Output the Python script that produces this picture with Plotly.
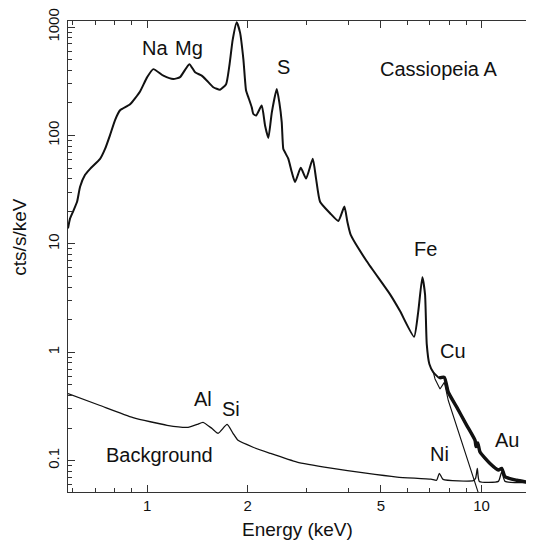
import math
import plotly.graph_objects as go

# ---- data ----
spec_E = [0.5803, 0.5884, 0.6008, 0.6177, 0.6306, 0.6527, 0.6757, 0.7237, 0.7489, 0.7750,
          0.8023, 0.8304, 0.8896, 0.9530, 1.000, 1.044, 1.119, 1.198, 1.255, 1.338,
          1.392, 1.457, 1.508, 1.578, 1.653, 1.723, 1.762, 1.804, 1.854, 1.897,
          1.941, 1.977, 2.008, 2.056, 2.079, 2.118, 2.202, 2.253, 2.305, 2.360,
          2.442, 2.486, 2.527, 2.555, 2.585, 2.645, 2.708, 2.770, 2.881, 2.988,
          3.129, 3.201, 3.290, 3.525, 3.732, 3.890, 3.971, 4.064, 4.538, 5.328,
          5.706, 6.285, 6.471, 6.653, 6.778, 6.858, 6.982, 7.177, 7.478, 7.740,
          7.955, 8.431, 9.030, 9.563, 9.630, 9.742, 9.897, 10.60, 11.23, 11.49,
          11.76, 12.74, 14.29, 14.6]
spec_cts = [13.9, 17.1, 19.9, 24.5, 33.7, 43.4, 49.3, 60.9, 75.2, 101,
            139, 171, 194, 255, 344, 410, 357, 332, 346, 456,
            383, 357, 322, 279, 265, 298, 440, 772, 1110, 890,
            505, 260, 226, 182, 158, 153, 189, 124, 95, 163,
            269, 202, 133, 75, 70, 61, 46, 37.2, 50.4, 40.1,
            61, 40, 24.5, 19.2, 16.3, 22.1, 16, 12.1, 6.91, 3.42,
            2.40, 1.39, 2.40, 4.93, 3.42, 1.19, 0.78, 0.654, 0.58, 0.588,
            0.428, 0.312, 0.212, 0.154, 0.135, 0.146, 0.12, 0.094, 0.082, 0.085,
            0.071, 0.066, 0.062, 0.061]

model_E = [7.177, 7.261, 7.514, 7.740, 7.955, 8.824, 9.782, 9.897]
model_cts = [0.654, 0.567, 0.459, 0.528, 0.359, 0.134, 0.0518, 0.0451]

bkg_E = [0.5803, 0.7237, 0.908, 1.148, 1.326, 1.411, 1.470, 1.564, 1.631, 1.735,
         1.807, 1.871, 2.075, 2.332, 2.808, 3.548, 4.454, 5.591, 7.063, 7.34,
         7.478, 7.672, 9.452, 9.60, 9.714, 9.849, 11.23, 11.49, 11.76, 14.29, 14.6]
bkg_cts = [0.416, 0.323, 0.250, 0.212, 0.203, 0.216, 0.226, 0.198, 0.179, 0.216,
           0.179, 0.154, 0.133, 0.117, 0.097, 0.0854, 0.0770, 0.0706, 0.0675, 0.066,
           0.0765, 0.0672, 0.0655, 0.069, 0.0847, 0.0644, 0.0644, 0.0788, 0.0644, 0.0628, 0.0627]

x_ticks = [1, 2, 5, 10]
x_ticktext = ["1", "2", "5", "10"]
x_minor = [0.6, 0.7, 0.8, 0.9, 3, 4, 6, 7, 8, 9]
y_ticks = [0.1, 1, 10, 100, 1000]
y_ticktext = ["0.1", "1", "10", "100", "1000"]
y_minor = [m * 10 ** d for d in range(-2, 4) for m in range(2, 10)]

labels = [("Na", 1.057, 642), ("Mg", 1.332, 642), ("S", 2.551, 425),
          ("Cassiopeia A", 7.42, 407), ("Fe", 6.78, 8.9), ("Cu", 8.21, 1.03),
          ("Au", 11.9, 0.154), ("Ni", 7.50, 0.116), ("Al", 1.465, 0.371),
          ("Si", 1.783, 0.297), ("Background", 1.090, 0.112)]

FONT = "Liberation Sans, Arial, Helvetica, sans-serif"
INK = "#111111"

fig = go.Figure()
fig.add_trace(go.Scatter(x=bkg_E, y=bkg_cts, mode="lines",
                         line=dict(color=INK, width=1.3, shape="spline", smoothing=0.5),
                         showlegend=False))
fig.add_trace(go.Scatter(x=model_E, y=model_cts, mode="lines",
                         line=dict(color=INK, width=1.1), showlegend=False))
fig.add_trace(go.Scatter(x=spec_E, y=spec_cts, mode="lines",
                         line=dict(color=INK, width=2, shape="spline", smoothing=0.5),
                         showlegend=False))
hi = [i for i, e in enumerate(spec_E) if e >= 7.4]
fig.add_trace(go.Scatter(x=[spec_E[i] for i in hi], y=[spec_cts[i] for i in hi], mode="lines",
                         line=dict(color=INK, width=3.4, shape="spline", smoothing=0.5),
                         showlegend=False))

for txt, ex, cy in labels:
    fig.add_annotation(x=math.log10(ex), y=math.log10(cy), xref="x", yref="y",
                       text=txt, showarrow=False, font=dict(size=20, color=INK, family=FONT),
                       xanchor="center", yanchor="middle")

fig.add_annotation(x=0.4925, y=-0.08, xref="paper", yref="paper", text="Energy (keV)",
                   showarrow=False, font=dict(size=19, color=INK, family=FONT),
                   xanchor="center", yanchor="middle")
fig.add_annotation(x=-0.103, y=0.54, xref="paper", yref="paper", text="cts/s/keV",
                   showarrow=False, textangle=-90, font=dict(size=19, color=INK, family=FONT),
                   xanchor="center", yanchor="middle")

# page body adds an 8px offset, so the figure is drawn 8px smaller with matching margins
fig.update_layout(
    width=526, height=533,
    margin=dict(l=60, r=0, t=10, b=49),
    paper_bgcolor="white", plot_bgcolor="white",
    font=dict(family=FONT, color=INK),
    xaxis=dict(type="log", range=[math.log10(0.5803), math.log10(14.35)],
               tickmode="array", tickvals=x_ticks, ticktext=x_ticktext,
               ticks="inside", ticklen=7, tickwidth=1, tickcolor="#333",
               showline=True, linecolor="#333", linewidth=1, mirror="ticks",
               showgrid=False, zeroline=False, tickfont=dict(size=15, color=INK),
               minor=dict(tickmode="array", tickvals=x_minor, ticks="inside",
                          ticklen=4, tickwidth=1, tickcolor="#333", showgrid=False)),
    yaxis=dict(type="log", range=[math.log10(0.0514), math.log10(1140)],
               tickmode="array", tickvals=y_ticks, ticktext=y_ticktext, tickangle=-90,
               ticks="inside", ticklen=7, tickwidth=1, tickcolor="#333",
               showline=True, linecolor="#333", linewidth=1, mirror=False,
               showgrid=False, zeroline=False, tickfont=dict(size=15, color=INK),
               ticklabeloverflow="allow", ticklabelstandoff=2,
               minor=dict(tickmode="array", tickvals=y_minor, ticks="inside",
                          ticklen=4, tickwidth=1, tickcolor="#333", showgrid=False)),
)

fig.write_html("out.html")
